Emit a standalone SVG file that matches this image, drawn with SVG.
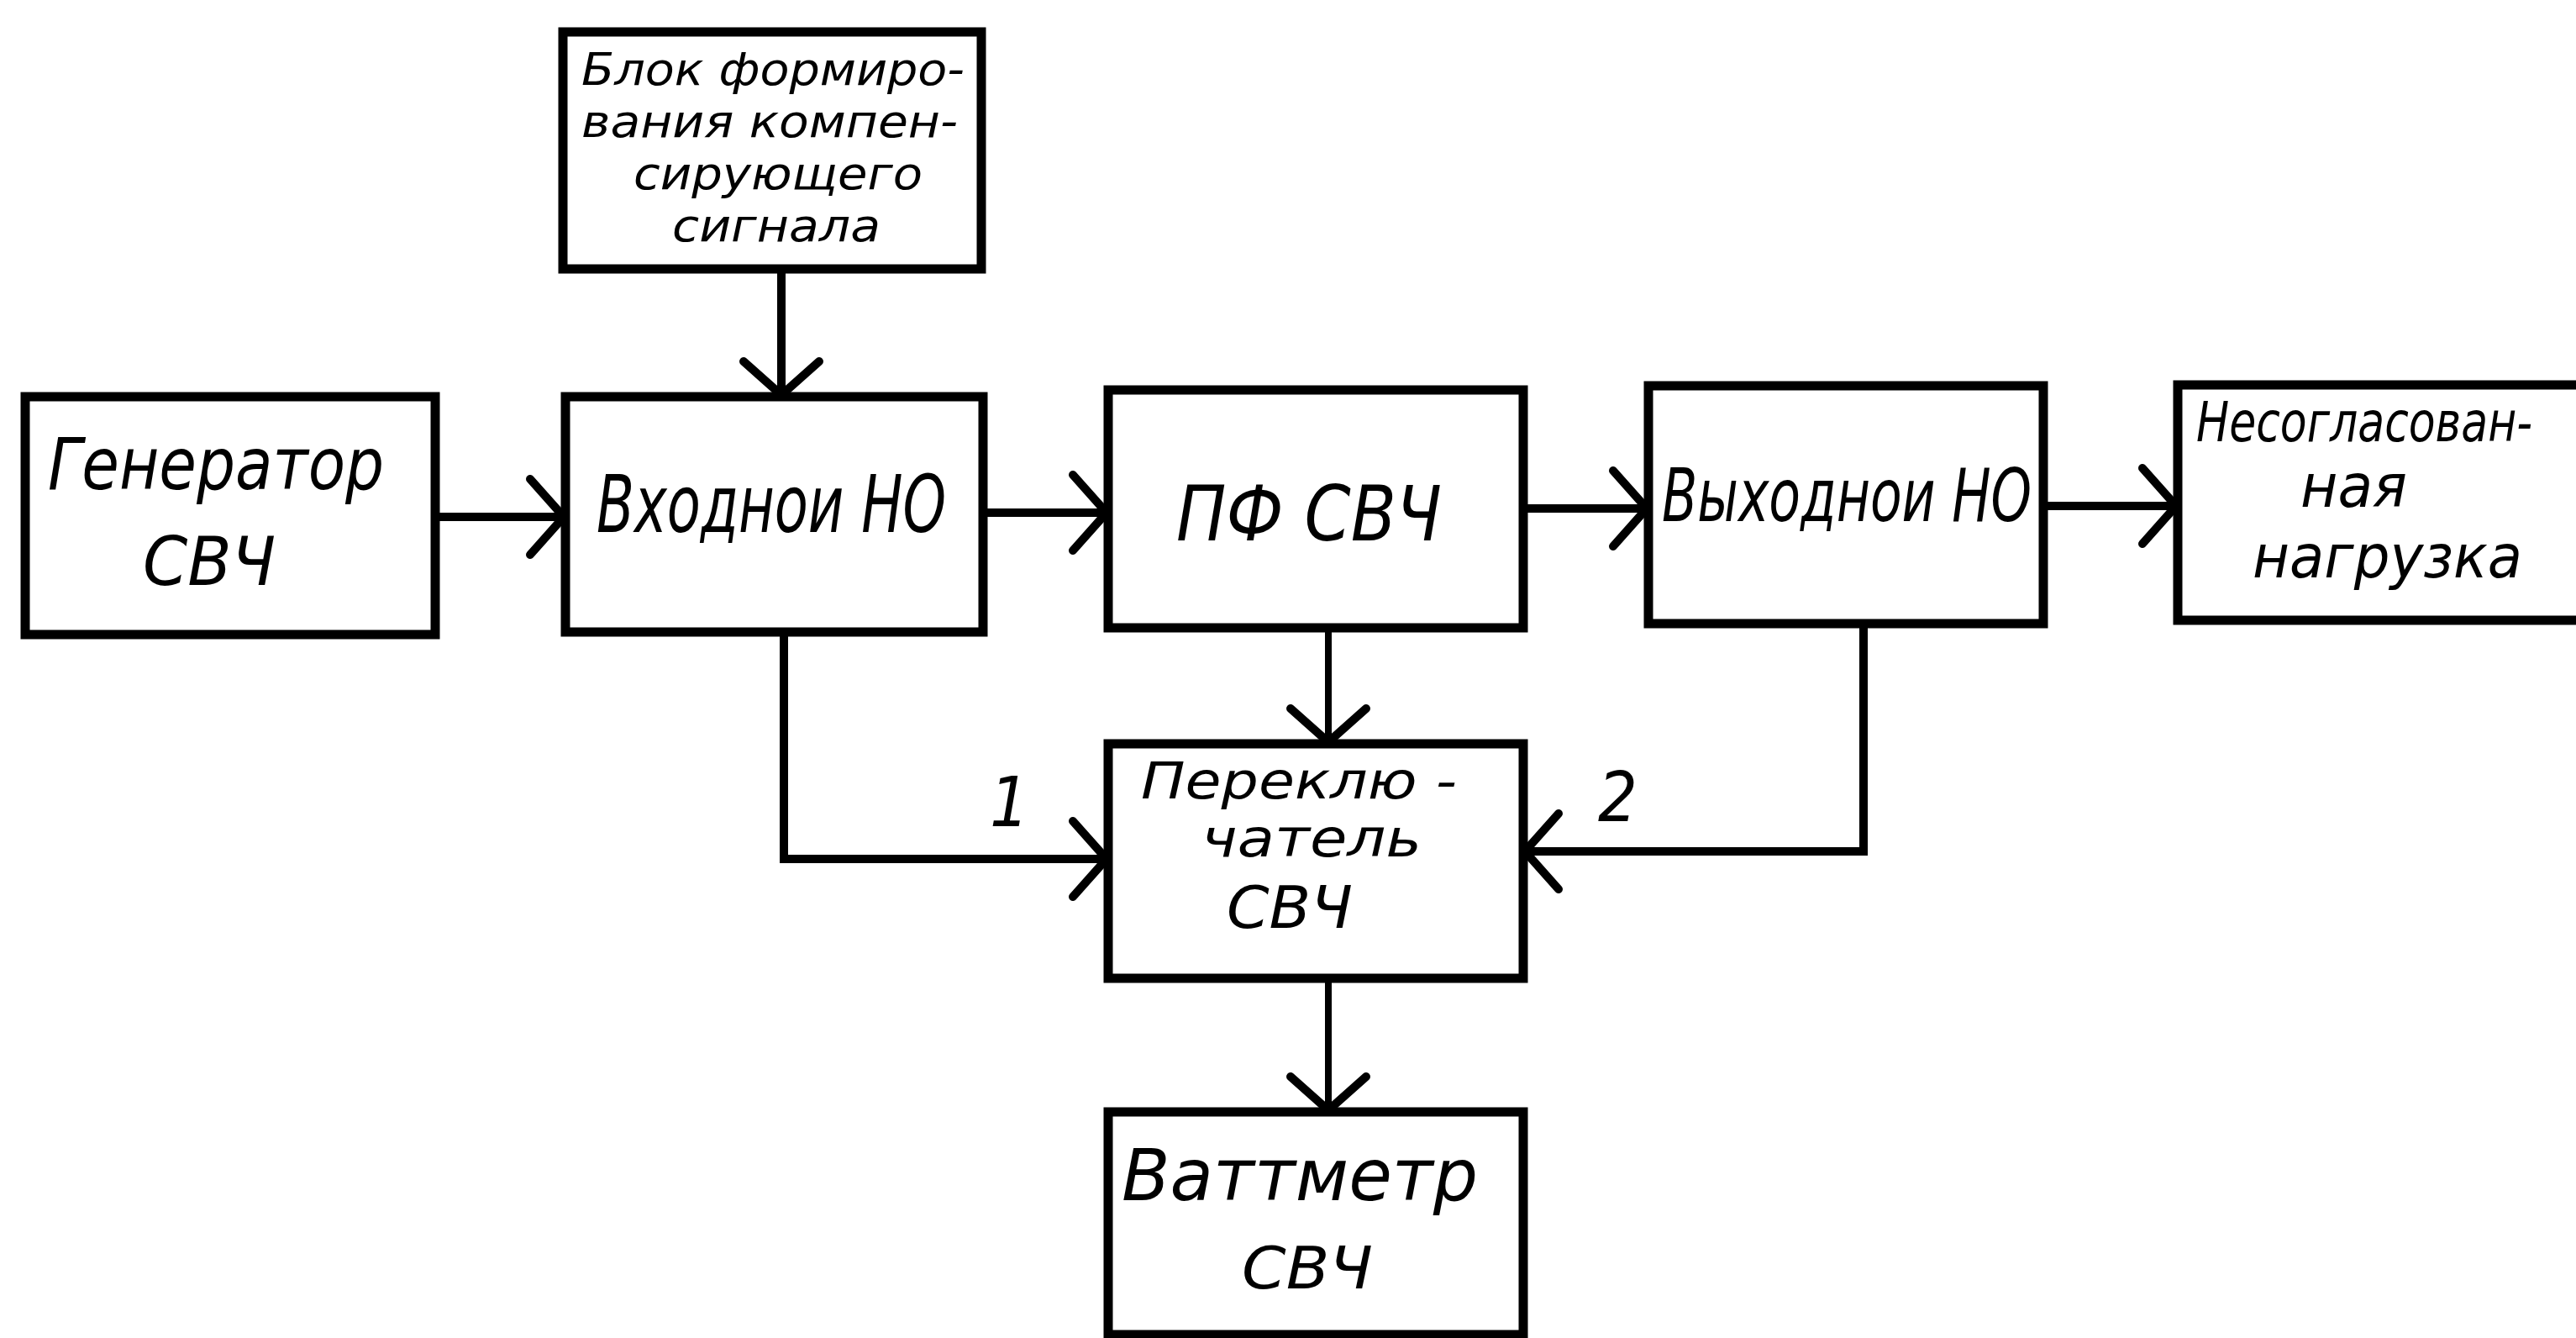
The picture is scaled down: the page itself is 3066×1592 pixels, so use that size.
<svg xmlns="http://www.w3.org/2000/svg" width="3066" height="1592" viewBox="0 0 3066 1592">
<style>
.box{fill:none;stroke:#000;stroke-width:11;stroke-linejoin:miter}
.con{fill:none;stroke:#000;stroke-width:10}
.thin{stroke-width:8}
.t{font-family:"DejaVu Sans Condensed","DejaVu Sans","Liberation Sans",sans-serif;font-style:oblique;fill:#000}
</style>
<defs>
<marker id="arr" markerUnits="userSpaceOnUse" viewBox="-50 -55 60 110" markerWidth="60" markerHeight="110" refX="0" refY="0" orient="auto" overflow="visible">
<path d="M-40,-45 L0,0 L-40,45" fill="none" stroke="#000" stroke-width="10" stroke-linecap="round"/>
</marker>
</defs>
<rect width="3066" height="1592" fill="#fff"/>
<g id="connectors">
<line class="con" x1="930" y1="320" x2="930" y2="470" marker-end="url(#arr)"/>
<line class="con" x1="518" y1="615" x2="671" y2="615" marker-end="url(#arr)"/>
<line class="con" x1="1170" y1="610" x2="1317" y2="610" marker-end="url(#arr)"/>
<line class="con" x1="1813" y1="605" x2="1960" y2="605" marker-end="url(#arr)"/>
<line class="con" x1="2432" y1="602" x2="2590" y2="602" marker-end="url(#arr)"/>
<line class="con thin" x1="1581" y1="747" x2="1581" y2="883" marker-end="url(#arr)"/>
<line class="con thin" x1="1581" y1="1164" x2="1581" y2="1321" marker-end="url(#arr)"/>
<polyline class="con" points="933,752 933,1022 1317,1022" marker-end="url(#arr)"/>
<polyline class="con" points="2218,742 2218,1013 1815,1013" marker-end="url(#arr)"/>
<text class="t" x="1178" y="983" font-size="82">1</text>
<text class="t" x="1902" y="977" font-size="82">2</text>
</g>
<g id="node-blok">
<rect class="box" x="670" y="38" width="498" height="282"/>
<text class="t" x="692" y="101" font-size="54" textLength="456" lengthAdjust="spacingAndGlyphs">Блок формиро-</text>
<text class="t" x="692" y="163" font-size="54" textLength="448" lengthAdjust="spacingAndGlyphs">вания компен-</text>
<text class="t" x="754" y="225" font-size="54" textLength="344" lengthAdjust="spacingAndGlyphs">сирующего</text>
<text class="t" x="800" y="287" font-size="54" textLength="248" lengthAdjust="spacingAndGlyphs">сигнала</text>
</g>
<g id="node-generator">
<rect class="box" x="30" y="472" width="488" height="283"/>
<text class="t" x="57" y="582" font-size="85" textLength="400" lengthAdjust="spacingAndGlyphs">Генератор</text>
<text class="t" x="170" y="696" font-size="80" textLength="158" lengthAdjust="spacingAndGlyphs">СВЧ</text>
</g>
<g id="node-vhodnoi">
<rect class="box" x="673" y="472" width="497" height="280"/>
<text class="t" x="710" y="633" font-size="95" textLength="416" lengthAdjust="spacingAndGlyphs">Входнои НО</text>
</g>
<g id="node-pf">
<rect class="box" x="1319" y="464" width="494" height="283"/>
<text class="t" x="1400" y="643" font-size="90" textLength="316" lengthAdjust="spacingAndGlyphs">ПФ СВЧ</text>
</g>
<g id="node-vyhodnoi">
<rect class="box" x="1962" y="459" width="470" height="283"/>
<text class="t" x="1978" y="620" font-size="88" textLength="440" lengthAdjust="spacingAndGlyphs">Выходнои НО</text>
</g>
<g id="node-nagruzka">
<path class="box" d="M3066,458 L2592,458 L2592,738 L3066,738"/>
<text class="t" x="2614" y="525" font-size="66" textLength="400" lengthAdjust="spacingAndGlyphs">Несогласован-</text>
<text class="t" x="2738" y="603" font-size="72" textLength="127" lengthAdjust="spacingAndGlyphs">ная</text>
<text class="t" x="2681" y="687" font-size="72" textLength="321" lengthAdjust="spacingAndGlyphs">нагрузка</text>
</g>
<g id="node-pereklyuchatel">
<rect class="box" x="1319" y="885" width="494" height="279"/>
<text class="t" x="1358" y="950" font-size="60" textLength="376" lengthAdjust="spacingAndGlyphs">Переклю -</text>
<text class="t" x="1430" y="1019" font-size="62" textLength="262" lengthAdjust="spacingAndGlyphs">чатель</text>
<text class="t" x="1460" y="1104" font-size="70" textLength="150" lengthAdjust="spacingAndGlyphs">СВЧ</text>
</g>
<g id="node-vattmetr">
<rect class="box" x="1319" y="1323" width="494" height="265"/>
<text class="t" x="1335" y="1428" font-size="85" textLength="424" lengthAdjust="spacingAndGlyphs">Ваттметр</text>
<text class="t" x="1478" y="1533" font-size="70" textLength="156" lengthAdjust="spacingAndGlyphs">СВЧ</text>
</g>
</svg>
